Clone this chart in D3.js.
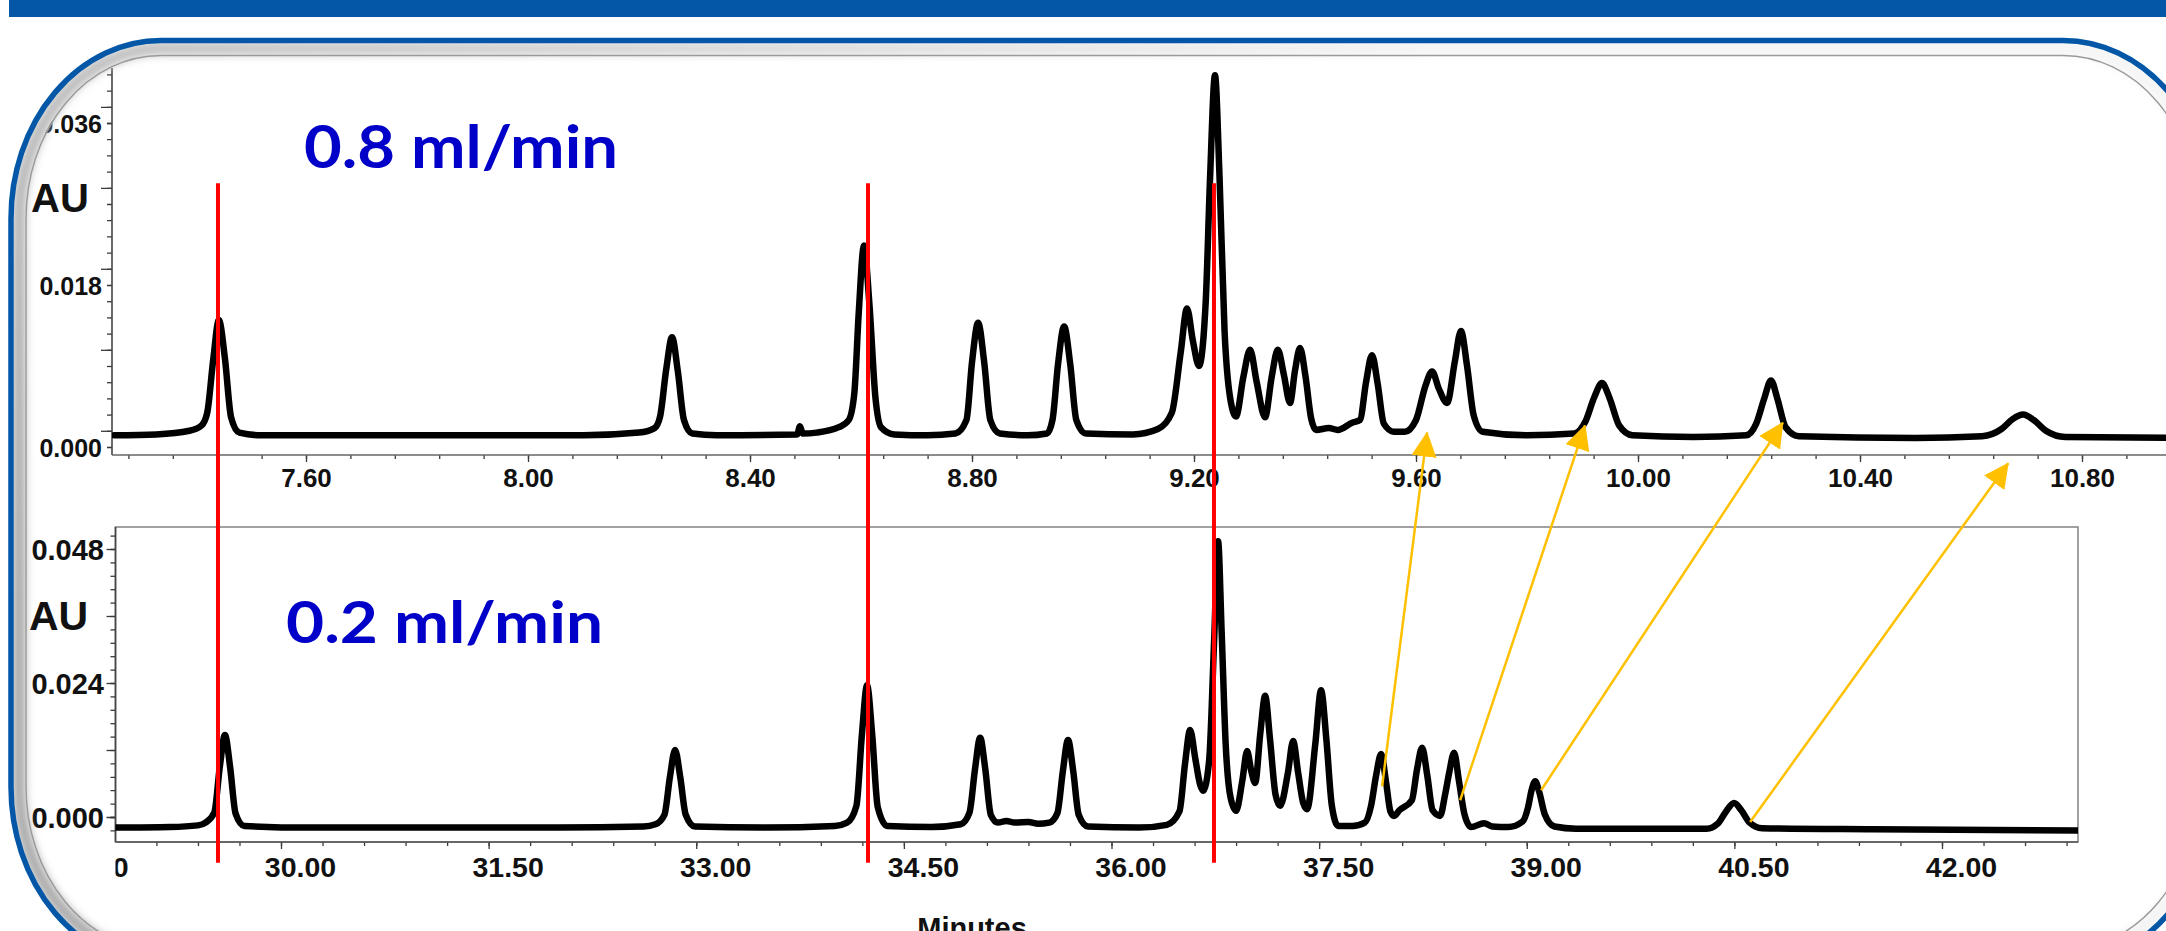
<!DOCTYPE html>
<html>
<head>
<meta charset="utf-8">
<title>Flow rate comparison</title>
<script src="https://cdn.jsdelivr.net/npm/d3@7"></script>
<style>
  body { margin: 0; background: #fff; }
  svg { display: block; }
  .tick line { stroke: #3a3a3a; stroke-width: 1.3; }
  .tick text { fill: #111; font-weight: bold; }
</style>
</head>
<body>
<svg id="chart"></svg>
<script>
// ---- values ----

// top run, 0.8 ml/min : [minutes, AU]
const fastTrace = [
    [7.254, 0.0013], [7.33, 0.0014], [7.39, 0.0018], [7.412, 0.0024], [7.422, 0.0038],
    [7.433, 0.0098], [7.443, 0.0141], [7.454, 0.0098], [7.465, 0.0033], [7.48, 0.0016],
    [7.52, 0.0013], [7.80, 0.0013], [8.10, 0.0013], [8.20, 0.0016], [8.228, 0.0021],
    [8.238, 0.0034], [8.249, 0.0086], [8.2595, 0.0122], [8.270, 0.0084], [8.281, 0.0030],
    [8.296, 0.0015], [8.34, 0.0013], [8.485, 0.0014], [8.490, 0.0023], [8.495, 0.0015],
    [8.52, 0.0016], [8.56, 0.0022], [8.578, 0.0030], [8.588, 0.0060], [8.596, 0.0150],
    [8.6054, 0.0224], [8.615, 0.0160], [8.626, 0.0055], [8.636, 0.0022], [8.66, 0.0014],
    [8.72, 0.0013], [8.77, 0.0015], [8.790, 0.0030], [8.800, 0.0094], [8.811, 0.0138],
    [8.822, 0.0094], [8.833, 0.0030], [8.85, 0.0015], [8.90, 0.0013], [8.935, 0.0015],
    [8.945, 0.0030], [8.955, 0.0092], [8.966, 0.0134], [8.977, 0.0092], [8.988, 0.0030],
    [9.005, 0.0015], [9.09, 0.0014], [9.135, 0.0020], [9.160, 0.0038], [9.176, 0.0105],
    [9.1874, 0.0154], [9.198, 0.0118], [9.209, 0.0090], [9.221, 0.0160], [9.229, 0.0300],
    [9.2378, 0.0413], [9.246, 0.0300], [9.255, 0.0130], [9.265, 0.0055], [9.2757, 0.0034],
    [9.289, 0.0078], [9.301, 0.0108], [9.313, 0.0072], [9.328, 0.0033], [9.340, 0.0078],
    [9.351, 0.0108], [9.362, 0.0080], [9.373, 0.0049], [9.382, 0.0085], [9.391, 0.0110],
    [9.401, 0.0078], [9.411, 0.0032], [9.420, 0.0019], [9.443, 0.0021], [9.459, 0.0019],
    [9.485, 0.0027], [9.499, 0.0030], [9.510, 0.0072], [9.5207, 0.0102], [9.531, 0.0070],
    [9.542, 0.0026], [9.56, 0.0017], [9.580, 0.0017], [9.600, 0.0030], [9.617, 0.0068],
    [9.629, 0.0084], [9.641, 0.0065], [9.656, 0.0049], [9.670, 0.0095], [9.681, 0.0129],
    [9.692, 0.0090], [9.704, 0.0035], [9.72, 0.0017], [9.80, 0.0013], [9.885, 0.0015],
    [9.905, 0.0028], [9.921, 0.0055], [9.935, 0.0071], [9.949, 0.0054], [9.966, 0.0024],
    [9.99, 0.0013], [10.10, 0.0011], [10.195, 0.0013], [10.213, 0.0026], [10.228, 0.0055],
    [10.2396, 0.0074], [10.251, 0.0054], [10.266, 0.0022], [10.29, 0.0012], [10.50, 0.0010],
    [10.62, 0.0012], [10.655, 0.0020], [10.675, 0.0031], [10.694, 0.0036], [10.713, 0.0030],
    [10.735, 0.0018], [10.77, 0.0011], [11.0, 0.0010]
];

// bottom run, 0.2 ml/min : [minutes, AU]
const slowTrace = [
    [28.808, -0.0019], [29.20, -0.0018], [29.40, -0.0015], [29.455, -0.0010], [29.518, 0.0008],
    [29.558, 0.0090], [29.595, 0.0147], [29.632, 0.0090], [29.672, 0.0006], [29.735, -0.0016],
    [30.20, -0.0019], [32.00, -0.0019], [32.62, -0.0017], [32.705, -0.0013], [32.770, 0.0004],
    [32.810, 0.0072], [32.847, 0.0120], [32.884, 0.0072], [32.924, 0.0004], [32.99, -0.0017],
    [33.50, -0.0019], [34.00, -0.0016], [34.09, -0.0010], [34.157, 0.0020], [34.197, 0.0148],
    [34.234, 0.0236], [34.271, 0.0148], [34.311, 0.0018], [34.38, -0.0016], [34.70, -0.0018],
    [34.91, -0.0013], [34.974, 0.0008], [35.014, 0.0086], [35.051, 0.0142], [35.088, 0.0086],
    [35.128, 0.0004], [35.18, -0.0010], [35.24, -0.0007], [35.30, -0.0010], [35.40, -0.0009],
    [35.47, -0.0012], [35.55, -0.0010], [35.609, 0.0007], [35.649, 0.0083], [35.686, 0.0138],
    [35.723, 0.0083], [35.763, 0.0004], [35.83, -0.0017], [36.20, -0.0019], [36.40, -0.0014],
    [36.491, 0.0010], [36.531, 0.0095], [36.568, 0.0156], [36.605, 0.0105], [36.640, 0.0058],
    [36.662, 0.0047], [36.705, 0.0100], [36.742, 0.0320], [36.770, 0.0494], [36.796, 0.0330],
    [36.825, 0.0130], [36.86, 0.0035], [36.900, 0.0011], [36.945, 0.0065], [36.980, 0.0118],
    [37.010, 0.0082], [37.038, 0.0061], [37.075, 0.0150], [37.110, 0.0217], [37.145, 0.0140],
    [37.185, 0.0040], [37.218, 0.0020], [37.275, 0.0080], [37.312, 0.0136], [37.348, 0.0080],
    [37.385, 0.0025], [37.413, 0.0014], [37.472, 0.0130], [37.514, 0.0227], [37.552, 0.0140],
    [37.592, 0.0020], [37.637, -0.0016], [37.74, -0.0016], [37.83, -0.0010], [37.875, 0.0020],
    [37.912, 0.0075], [37.948, 0.0113], [37.985, 0.0060], [38.015, 0.0010], [38.042, 0.0002],
    [38.08, 0.0012], [38.170, 0.0030], [38.207, 0.0085], [38.244, 0.0124], [38.281, 0.0075],
    [38.32, 0.0012], [38.374, 0.0002], [38.41, 0.0040], [38.440, 0.0080], [38.475, 0.0115],
    [38.510, 0.0065], [38.55, 0.0005], [38.598, -0.0018], [38.692, -0.0011], [38.75, -0.0017],
    [38.866, -0.0018], [38.97, -0.0008], [39.01, 0.0018], [39.035, 0.0048], [39.061, 0.0064],
    [39.09, 0.0045], [39.13, 0.0005], [39.20, -0.0017], [39.357, -0.0021], [40.30, -0.0021],
    [40.38, -0.0012], [40.44, 0.0010], [40.498, 0.0025], [40.55, 0.0012], [40.61, -0.0010],
    [40.70, -0.0020], [41.50, -0.0022], [42.984, -0.0024]
];

const fastTickLabels = [7.2, 7.6, 8.0, 8.4, 8.8, 9.2, 9.6, 10.0, 10.4, 10.8];
const slowTickLabels = [28.5, 30, 31.5, 33, 34.5, 36, 37.5, 39, 40.5, 42];
const fastAuLabels = [0, 0.018, 0.036];
const slowAuLabels = [0, 0.024, 0.048];
const flowRates = ['0.8 ml/min', '0.2 ml/min'];

// red guide lines, in top-run minutes; they run from top AU to bottom AU
const matchTimes = [7.4414, 8.6126, 9.236];
const matchSpan = [0.0293, -0.0082];

// yellow arrows: start on bottom run, end on top run
const arrowStarts = [[37.955, 0.0055], [38.519, 0.0030], [39.104, 0.0048], [40.614, -0.0009]];
const arrowEnds = [[9.620, 0.0016], [9.9045, 0.0024], [10.261, 0.0027], [10.667, -0.0018]];

// ---- layout ----
const W = 2166, H = 931;
const BLUE = '#0457a7';
const FONT = '"Liberation Sans", Arial, sans-serif';

const fastBox = { left: 112, right: 2166, top: 68, bottom: 455 };
const slowBox = { left: 115.5, right: 2078, top: 527, bottom: 842 };

const xFast = d3.scaleLinear().domain([7.6, 10.8]).range([306, 2082]);
const yFast = d3.scaleLinear().domain([0, 0.036]).range([447, 123]);
const xSlow = d3.scaleLinear().domain([30, 42]).range([281, 1942]);
const ySlow = d3.scaleLinear().domain([0, 0.048]).range([817, 549]);

const svg = d3.select('#chart').attr('width', W).attr('height', H);
const defs = svg.append('defs');

svg.append('rect').attr('width', W).attr('height', H).attr('fill', '#fff');

// header strip
svg.append('rect').attr('x', 9).attr('y', 0).attr('width', W - 9).attr('height', 17).attr('fill', BLUE);

// panel (rounded frame runs past the right and bottom edges)
const panel = { x: 11, y: 40.5, right: 2213, bottom: 965, rx: 150, ry: 178 };
const inset = (d) => ({
    x: panel.x + d, y: panel.y + d,
    width: panel.right - panel.x - 2 * d, height: panel.bottom - panel.y - 2 * d,
    rx: panel.rx - d, ry: panel.ry - d
});
const roundRect = (sel, r) => sel.attr('x', r.x).attr('y', r.y)
    .attr('width', r.width).attr('height', r.height).attr('rx', r.rx).attr('ry', r.ry);

roundRect(defs.append('clipPath').attr('id', 'inner-clip').append('rect'), inset(14));
roundRect(defs.append('clipPath').attr('id', 'outer-clip').append('rect'), inset(0));

defs.append('clipPath').attr('id', 'fast-clip')
    .append('rect').attr('x', fastBox.left).attr('y', 0)
    .attr('width', fastBox.right - fastBox.left).attr('height', fastBox.bottom);
defs.append('clipPath').attr('id', 'slow-clip')
    .append('rect').attr('x', slowBox.left).attr('y', slowBox.top)
    .attr('width', slowBox.right - slowBox.left).attr('height', slowBox.bottom - slowBox.top);
defs.append('clipPath').attr('id', 'fast-label-clip')
    .append('rect').attr('x', fastBox.left).attr('y', fastBox.bottom).attr('width', W).attr('height', 60);
defs.append('clipPath').attr('id', 'slow-label-clip')
    .append('rect').attr('x', slowBox.left).attr('y', slowBox.bottom).attr('width', W).attr('height', 60);

defs.append('filter').attr('id', 'soft').attr('x', '-5%').attr('y', '-5%').attr('width', '110%').attr('height', '110%')
    .append('feGaussianBlur').attr('stdDeviation', 4);

const bevelGrad = defs.append('linearGradient').attr('id', 'bevel')
    .attr('gradientUnits', 'userSpaceOnUse')
    .attr('x1', 1400).attr('y1', 0).attr('x2', 300).attr('y2', 931);
bevelGrad.append('stop').attr('offset', 0).attr('stop-color', '#f4f4f4');
bevelGrad.append('stop').attr('offset', 1).attr('stop-color', '#a9a9a9');

// ---- chart content, clipped to the inside of the panel ----
const content = svg.append('g').attr('clip-path', 'url(#inner-clip)');

function styleAxis(g, fontSize) {
    g.attr('font-family', FONT).attr('font-size', fontSize);
    g.select('.domain').remove();
    return g;
}

// top run axes
const fastAxes = content.append('g');
const fastMinorX = d3.range(-5, 43).map((i) => 7.6 + i * 0.08)
    .filter((v) => xFast(v) > fastBox.left + 2);
styleAxis(fastAxes.append('g').attr('transform', `translate(0,${fastBox.bottom})`)
    .call(d3.axisBottom(xFast).tickValues(fastMinorX).tickSize(4).tickFormat('')), 26);
const fastXLabels = styleAxis(fastAxes.append('g')
    .attr('clip-path', 'url(#fast-label-clip)')
    .append('g').attr('transform', `translate(0,${fastBox.bottom})`)
    .call(d3.axisBottom(xFast).tickValues(fastTickLabels).tickSize(7).tickFormat(d3.format('.2f'))), 26);
fastXLabels.selectAll('.tick text').attr('y', 32).attr('dy', 0);

const fastMinorY = d3.range(0, 24).map((i) => i * 0.0018);
styleAxis(fastAxes.append('g').attr('transform', `translate(${fastBox.left},0)`)
    .call(d3.axisLeft(yFast).tickValues(fastMinorY).tickSize(5).tickFormat('')), 25);
styleAxis(fastAxes.append('g').attr('transform', `translate(${fastBox.left},0)`)
    .call(d3.axisLeft(yFast).tickValues(fastMinorY.filter((v, i) => i % 5 === 1)).tickSize(11).tickFormat('')), 25);
const fastYLabels = styleAxis(fastAxes.append('g').attr('transform', `translate(${fastBox.left},0)`)
    .call(d3.axisLeft(yFast).tickValues(fastAuLabels).tickSize(5).tickFormat(d3.format('.3f'))), 25);
fastYLabels.selectAll('.tick text').attr('x', -10).attr('dy', '0.36em');

fastAxes.append('line')
    .attr('x1', fastBox.left).attr('x2', fastBox.left)
    .attr('y1', fastBox.top).attr('y2', fastBox.bottom)
    .attr('stroke', '#444').attr('stroke-width', 1.6);
fastAxes.append('line')
    .attr('x1', fastBox.left).attr('x2', fastBox.right)
    .attr('y1', fastBox.bottom).attr('y2', fastBox.bottom)
    .attr('stroke', '#666').attr('stroke-width', 1.6);

// bottom run axes
const slowAxes = content.append('g');
slowAxes.append('rect')
    .attr('x', slowBox.left).attr('y', slowBox.top)
    .attr('width', slowBox.right - slowBox.left).attr('height', slowBox.bottom - slowBox.top)
    .attr('fill', 'none').attr('stroke', '#8a8a8a').attr('stroke-width', 1.6);

const slowMinorX = d3.range(-4, 45).map((i) => 30 + i * 0.3)
    .filter((v) => xSlow(v) > slowBox.left + 2 && xSlow(v) < slowBox.right - 2);
styleAxis(slowAxes.append('g').attr('transform', `translate(0,${slowBox.bottom})`)
    .call(d3.axisBottom(xSlow).tickValues(slowMinorX).tickSize(4).tickFormat('')), 28.5);
const slowXLabels = styleAxis(slowAxes.append('g')
    .attr('clip-path', 'url(#slow-label-clip)')
    .append('g').attr('transform', `translate(0,${slowBox.bottom})`)
    .call(d3.axisBottom(xSlow).tickValues(slowTickLabels).tickSize(7).tickFormat(d3.format('.2f'))), 28.5);
slowXLabels.selectAll('.tick text').attr('y', 35).attr('dy', 0).attr('dx', 19);

const slowMinorY = d3.range(-1, 22).map((i) => i * 0.0024);
styleAxis(slowAxes.append('g').attr('transform', `translate(${slowBox.left},0)`)
    .call(d3.axisLeft(ySlow).tickValues(slowMinorY).tickSize(5).tickFormat('')), 29);
styleAxis(slowAxes.append('g').attr('transform', `translate(${slowBox.left},0)`)
    .call(d3.axisLeft(ySlow).tickValues(slowMinorY.filter((v, i) => i > 0 && (i - 1) % 5 === 0)).tickSize(9).tickFormat('')), 29);
const slowYLabels = styleAxis(slowAxes.append('g').attr('transform', `translate(${slowBox.left},0)`)
    .call(d3.axisLeft(ySlow).tickValues(slowAuLabels).tickSize(5).tickFormat(d3.format('.3f'))), 29);
slowYLabels.selectAll('.tick text').attr('x', -11.5).attr('dy', '0.36em');

slowAxes.append('line')
    .attr('x1', slowBox.left).attr('x2', slowBox.left)
    .attr('y1', slowBox.top).attr('y2', slowBox.bottom)
    .attr('stroke', '#444').attr('stroke-width', 1.6);
slowAxes.append('line')
    .attr('x1', slowBox.left).attr('x2', slowBox.right)
    .attr('y1', slowBox.bottom).attr('y2', slowBox.bottom)
    .attr('stroke', '#555').attr('stroke-width', 1.6);

// axis titles
content.append('text').text('AU')
    .attr('x', 31).attr('y', 212)
    .attr('font-family', FONT).attr('font-weight', 'bold').attr('font-size', 40).attr('fill', '#111');
content.append('text').text('AU')
    .attr('x', 29).attr('y', 630)
    .attr('font-family', FONT).attr('font-weight', 'bold').attr('font-size', 41).attr('fill', '#111');
content.append('text').text('Minutes')
    .attr('x', 972).attr('y', 938).attr('text-anchor', 'middle')
    .attr('font-family', FONT).attr('font-weight', 'bold').attr('font-size', 29).attr('fill', '#111');

// flow rate captions
[[flowRates[0], 304, 168, 314, 60], [flowRates[1], 286, 643, 317, 58]].forEach(([label, x, y, len, size]) => {
    content.append('text').text(label)
        .attr('x', x).attr('y', y)
        .attr('textLength', len).attr('lengthAdjust', 'spacingAndGlyphs')
        .attr('font-family', 'Lato, "Open Sans", sans-serif').attr('font-weight', 'bold')
        .attr('font-size', size).attr('fill', '#0000c8');
});

// chromatograms
const fastLine = d3.line().x((d) => xFast(d[0])).y((d) => yFast(d[1])).curve(d3.curveMonotoneX);
const slowLine = d3.line().x((d) => xSlow(d[0])).y((d) => ySlow(d[1])).curve(d3.curveMonotoneX);

content.append('g').attr('clip-path', 'url(#fast-clip)')
    .append('path').datum(fastTrace).attr('d', fastLine)
    .attr('fill', 'none').attr('stroke', '#000').attr('stroke-width', 6.5)
    .attr('stroke-linejoin', 'round').attr('stroke-linecap', 'round');
content.append('g').attr('clip-path', 'url(#slow-clip)')
    .append('path').datum(slowTrace).attr('d', slowLine)
    .attr('fill', 'none').attr('stroke', '#000').attr('stroke-width', 6.5)
    .attr('stroke-linejoin', 'round').attr('stroke-linecap', 'round');

// red guide lines
content.selectAll('.match').data(matchTimes).enter().append('line')
    .attr('class', 'match')
    .attr('x1', (d) => xFast(d)).attr('x2', (d) => xFast(d))
    .attr('y1', yFast(matchSpan[0])).attr('y2', ySlow(matchSpan[1]))
    .attr('stroke', '#ff0000').attr('stroke-width', 4);

// yellow arrows
defs.append('marker').attr('id', 'head')
    .attr('viewBox', '0 0 25 25').attr('refX', 24).attr('refY', 12.5)
    .attr('markerWidth', 25).attr('markerHeight', 25)
    .attr('markerUnits', 'userSpaceOnUse').attr('orient', 'auto')
    .append('path').attr('d', 'M0,0L25,12.5L0,25Z').attr('fill', '#ffc000');

content.selectAll('.shift').data(arrowStarts).enter().append('line')
    .attr('class', 'shift')
    .attr('x1', (d) => xSlow(d[0])).attr('y1', (d) => ySlow(d[1]))
    .attr('x2', (d, i) => xFast(arrowEnds[i][0])).attr('y2', (d, i) => yFast(arrowEnds[i][1]))
    .attr('stroke', '#ffc000').attr('stroke-width', 2.5)
    .attr('marker-end', 'url(#head)');

// ---- panel frame drawn over the content ----
roundRect(svg.append('g').attr('clip-path', 'url(#outer-clip)').append('rect'), inset(8))
    .attr('fill', 'none').attr('stroke', 'url(#bevel)').attr('stroke-width', 13)
    .attr('filter', 'url(#soft)');
roundRect(svg.append('rect'), inset(15))
    .attr('fill', 'none').attr('stroke', '#9a9a9a').attr('stroke-width', 1.4);
roundRect(svg.append('rect'), inset(0))
    .attr('fill', 'none').attr('stroke', BLUE).attr('stroke-width', 5.5);
</script>
</body>
</html>
